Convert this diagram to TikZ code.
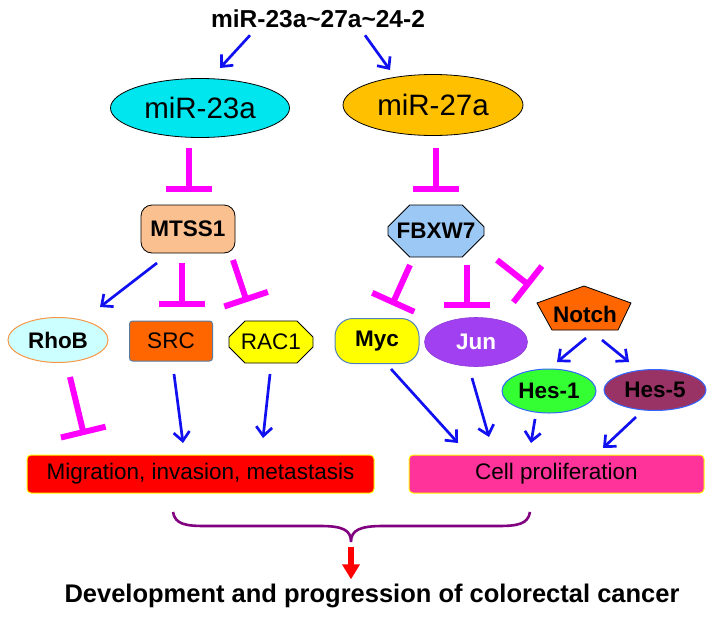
\documentclass[tikz,border=0pt]{standalone}
\usepackage{fontspec}
\setmainfont{Liberation Sans}
\usetikzlibrary{arrows.meta,shapes.geometric,shapes.misc,calc}
\definecolor{cyanfill}{HTML}{00E6EE}
\definecolor{goldfill}{HTML}{FFC000}
\definecolor{peach}{HTML}{FAC090}
\definecolor{lblue}{HTML}{9CC8F5}
\definecolor{rhobfill}{HTML}{CCFFFF}
\definecolor{rhobline}{HTML}{F79646}
\definecolor{orangefill}{HTML}{FF6600}
\definecolor{srcline}{HTML}{5A7AA0}
\definecolor{yel}{HTML}{FFFF00}
\definecolor{mycline}{HTML}{4F81BD}
\definecolor{junfill}{HTML}{A040F0}
\definecolor{hesgreen}{HTML}{33FF33}
\definecolor{hesline}{HTML}{3366FF}
\definecolor{plum}{HTML}{993366}
\definecolor{migred}{HTML}{FF0000}
\definecolor{cellpink}{HTML}{FF3399}
\definecolor{inhmag}{HTML}{FF00FF}
\definecolor{arrblue}{HTML}{1010F0}
\definecolor{bracepurple}{HTML}{800080}
\begin{document}
\begin{tikzpicture}[x=1pt,y=-1pt,
  lbl/.style={font=\fontsize{22.5}{24}\selectfont},
  blbl/.style={font=\fontsize{22.5}{24}\selectfont\bfseries},
  act/.style={draw=arrblue, line width=2.7pt, -{Straight Barb[length=9pt,width=16pt]}},
  inh/.style={draw=inhmag, line width=6pt, -{Bar[width=46pt]}},
  outbox/.style={rectangle, rounded corners=4pt, draw=yel, line width=1pt, inner sep=0pt, minimum height=38pt}
]
\useasboundingbox (0,0) rectangle (714,616);

% title
\node[anchor=base, inner sep=0pt, font=\fontsize{24.5}{26}\selectfont\bfseries] (title) at (318,27) {miR-23a\char`\~27a\char`\~24-2};

% miRNAs
\node[ellipse, draw, line width=0.8pt, fill=cyanfill, minimum width=179pt, minimum height=59pt, inner sep=0pt, font=\fontsize{29.5}{30}\selectfont] (mir23) at (200,108) {miR-23a};
\node[ellipse, draw, line width=0.8pt, fill=goldfill, minimum width=180pt, minimum height=61pt, inner sep=0pt, font=\fontsize{29.5}{30}\selectfont] (mir27) at (433,105) {miR-27a};

% targets
\node[rectangle, rounded corners=11pt, draw, line width=0.8pt, fill=peach, minimum width=94pt, minimum height=48pt, inner sep=0pt, blbl] (mtss1) at (188,229) {MTSS1};
\node[chamfered rectangle, chamfered rectangle xsep=14pt, chamfered rectangle ysep=14pt, draw, line width=0.8pt, fill=lblue, minimum width=96pt, minimum height=52pt, inner sep=0pt, blbl] (fbxw7) at (436,231) {FBXW7};

% row of effectors
\node[ellipse, draw=rhobline, line width=1pt, fill=rhobfill, minimum width=100pt, minimum height=45pt, inner sep=0pt, blbl] (rhob) at (58,340) {RhoB};
\node[rectangle, rounded corners=3pt, draw=srcline, line width=1pt, fill=orangefill, minimum width=83pt, minimum height=40pt, inner sep=0pt, lbl] (src) at (171,341) {SRC};
\node[chamfered rectangle, chamfered rectangle xsep=8pt, chamfered rectangle ysep=8pt, draw, line width=0.8pt, fill=yel, minimum width=84pt, minimum height=42pt, inner sep=0pt, lbl] (rac1) at (271,342) {RAC1};
\node[rectangle, rounded corners=18pt, draw=mycline, line width=1pt, fill=yel, minimum width=84pt, minimum height=45pt, inner sep=0pt, blbl] (myc) at (377,341) {Myc};
\node[ellipse, draw=junfill!90!black, line width=0.6pt, fill=junfill, minimum width=103pt, minimum height=49pt, inner sep=0pt, blbl, text=white] (jun) at (476,342) {Jun};

% Notch pentagon
\filldraw[fill=orangefill, draw=black, line width=0.8pt] (584,286) -- (631,303) -- (618,330) -- (552,330) -- (537,303) -- cycle;
\node[inner sep=0pt, blbl] (notch) at (585,314) {Notch};

\node[ellipse, draw=hesline, line width=1pt, fill=hesgreen, minimum width=94pt, minimum height=44pt, inner sep=0pt, blbl] (hes1) at (549,391) {Hes-1};
\node[ellipse, draw=hesline, line width=1pt, fill=plum, minimum width=102pt, minimum height=41pt, inner sep=0pt, blbl] (hes5) at (655,390) {Hes-5};

% outcome boxes
\node[outbox, fill=migred, minimum width=347pt, lbl] (mig) at (200.5,474) {Migration, invasion, metastasis};
\node[outbox, fill=cellpink, minimum width=295pt, lbl] (cell) at (556.5,474) {Cell proliferation};

% final text
\node[anchor=base, inner sep=0pt, font=\fontsize{25.5}{27}\selectfont\bfseries] (dev) at (372,602) {Development and progression of colorectal cancer};

% connectors
\draw[act] ([shift={(-68,17)}]title.center) -- ([shift={(20,-40)}]mir23.center);
\draw[act] ([shift={(47,17)}]title.center) -- ([shift={(-43,-35)}]mir27.center);

\draw[inh] ([shift={(-11,40)}]mir23.center) -- ([shift={(1,-37)}]mtss1.center);
\draw[inh] ([shift={(3,43)}]mir27.center) -- ([shift={(0,-39)}]fbxw7.center);

\draw[act] ([shift={(-31,34)}]mtss1.center) -- ([shift={(42,-33)}]rhob.center);
\draw[inh] ([shift={(-6,34)}]mtss1.center) -- ([shift={(11,-34)}]src.center);
\draw[inh] ([shift={(45,31)}]mtss1.center) -- ([shift={(-24,-40)}]rac1.center);

\draw[inh] ([shift={(-26,34)}]fbxw7.center) -- ([shift={(15,-36)}]myc.center);
\draw[inh] ([shift={(31,34)}]fbxw7.center) -- ([shift={(-9,-34)}]jun.center);
\draw[inh] ([shift={(61,29)}]fbxw7.center) -- ([shift={(-55,-28)}]notch.center);

\draw[act] ([shift={(1,24)}]notch.center) -- ([shift={(8,-29)}]hes1.center);
\draw[act] ([shift={(17,26)}]notch.center) -- ([shift={(-26,-28)}]hes5.center);

\draw[inh] ([shift={(12,37)}]rhob.center) -- ([shift={(-116.5,-39)}]mig.center);
\draw[act] ([shift={(3,33)}]src.center) -- ([shift={(-17.5,-31)}]mig.center);
\draw[act] ([shift={(-1,32)}]rac1.center) -- ([shift={(62.5,-36)}]mig.center);

\draw[act] ([shift={(14,28)}]myc.center) -- ([shift={(-98.5,-31)}]cell.center);
\draw[act] ([shift={(-4,36)}]jun.center) -- ([shift={(-67.5,-37)}]cell.center);
\draw[act] ([shift={(-14,28)}]hes1.center) -- ([shift={(-25.5,-31)}]cell.center);
\draw[act] ([shift={(-19,27)}]hes5.center) -- ([shift={(46.5,-26)}]cell.center);

% brace
\draw[draw=bracepurple, line width=2.6pt] (173,512) .. controls (175,524) and (185,526) .. (205,526) -- (320,526) .. controls (343,526) and (351,530) .. (351,542) .. controls (351,530) and (360,526) .. (383,526) -- (498,526) .. controls (518,526) and (528,524) .. (530,512);
\coordinate (bt) at (351,547);
\draw[draw=migred, line width=5.5pt, -{Triangle[width=17pt,length=15pt]}] (bt) -- (bt |- dev.north) [shorten >=4pt];
\end{tikzpicture}
\end{document}
